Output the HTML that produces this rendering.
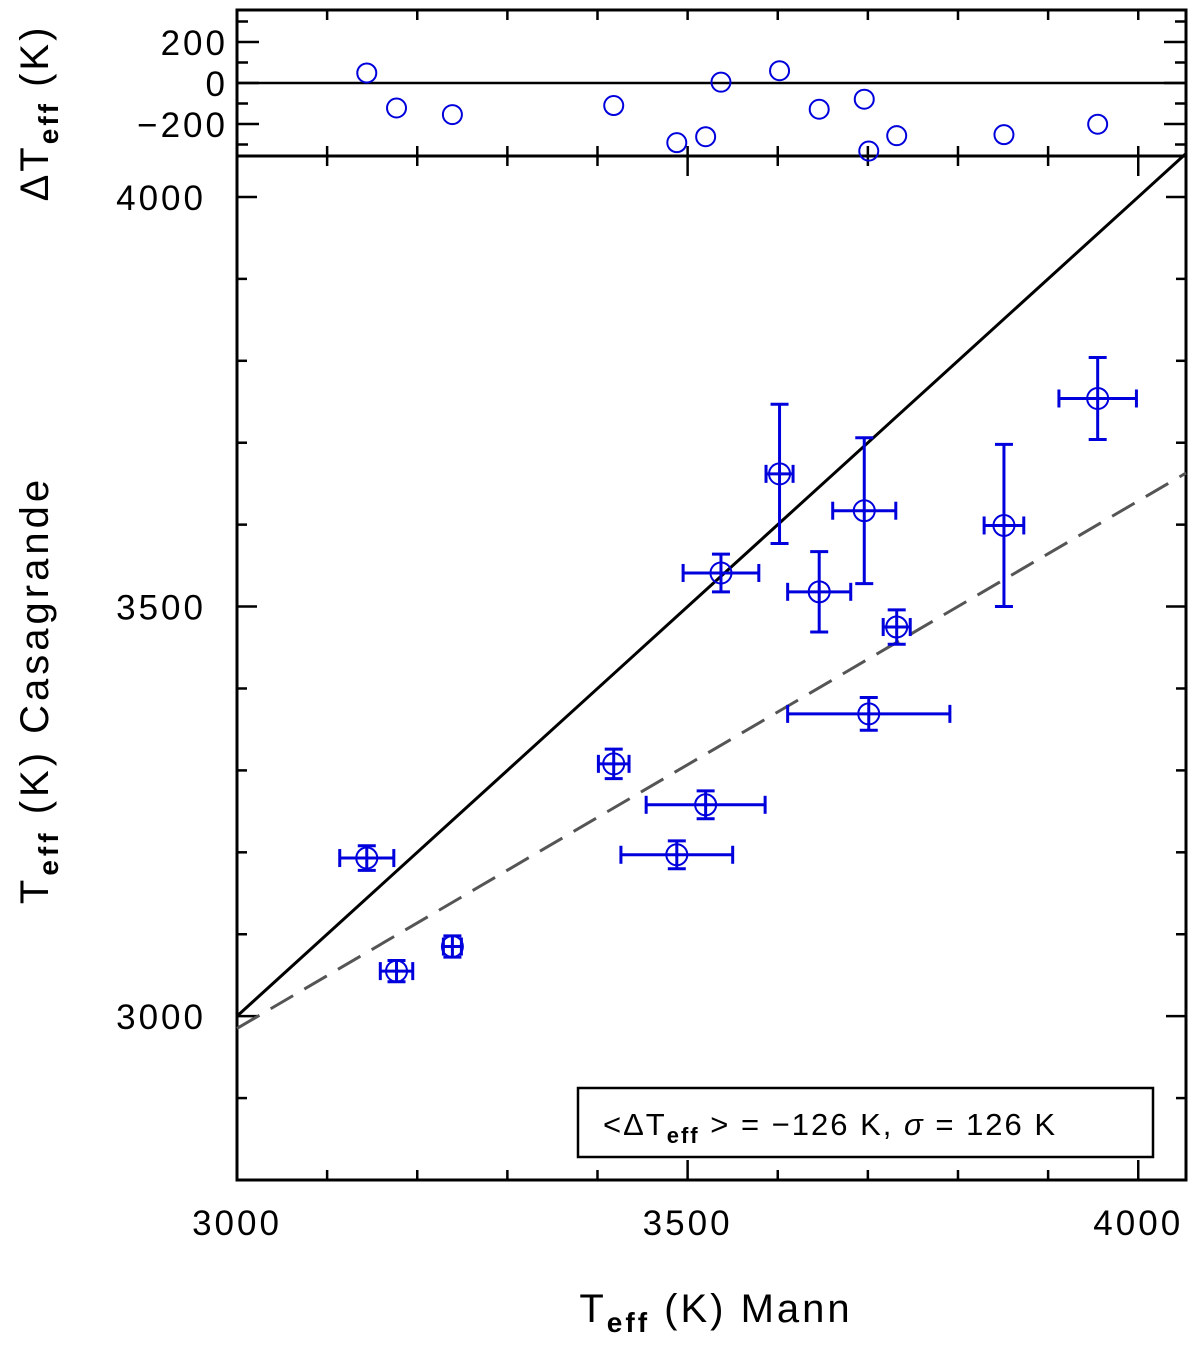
<!DOCTYPE html>
<html><head><meta charset="utf-8"><style>
body{margin:0;background:#fff;}
svg text{font-family:"Liberation Sans",sans-serif;fill:#000;}
</style></head><body>
<svg id="c" width="1200" height="1340" xmlns="http://www.w3.org/2000/svg"></svg>
<script>
const mannTeff=[3144,3177,3239,3418,3488,3520,3537,3602,3646,3696,3701,3732,3851,3955];
const casaTeff=[3193,3055,3085,3308,3197,3258,3541,3662,3518,3617,3369,3475,3599,3754];
const mannErr=[30,18,10,17,62,66,42,15,35,35,90,15,22,43];
const casaErr=[15,13,13,18,17,17,23,85,49,89,20,21,99,50];
const xTicks=[3000,3500,4000];
const yTicks=[3000,3500,4000];
const dTicks=[-200,0,200];
const fitLine=[[3000,2985],[4053,3663]];
const NS="http://www.w3.org/2000/svg";
const svg=document.getElementById('c');
const L=237,R=1186,MT=156,MB=1180,TT=10,TB=156;
const X0=3000,X1=4053,Y0=2800,Y1=4050;
const sx=v=>L+(v-X0)/(X1-X0)*(R-L);
const sy=v=>MB-(v-Y0)/(Y1-Y0)*(MB-MT);
const sd=v=>83-v*0.205;
function el(t,a,p){const e=document.createElementNS(NS,t);for(const k in a)e.setAttribute(k,a[k]);(p||svg).appendChild(e);return e;}
function line(x1,y1,x2,y2,w,c,extra){return el('line',Object.assign({x1,y1,x2,y2,stroke:c||'#000','stroke-width':w||2.5},extra||{}));}
const f1=el('rect',{x:L,y:TT,width:R-L,height:TB-TT,fill:'none',stroke:'#000','stroke-width':3});

const f2=el('rect',{x:L,y:MT,width:R-L,height:MB-MT,fill:'none',stroke:'#000','stroke-width':3});

for(let v=3000;v<=4050;v+=100){const x=sx(v);const maj=v%500===0;
 line(x,TT,x,TT+10);line(x,TB,x,TB-10);line(x,TB,x,TB+(maj?20:10));line(x,MB,x,MB-(maj?20:10));}
for(let v=2900;v<=4050;v+=100){const y=sy(v);const maj=v%500===0;
 line(L,y,L+(maj?20:10),y);line(R,y,R-(maj?20:10),y);}
for(let v=-300;v<=300;v+=100){const y=sd(v);const maj=v%200===0;
 line(L,y,L+(maj?22:11),y);line(R,y,R-(maj?22:11),y);}
xTicks.forEach(v=>{const t=el('text',{x:sx(v),y:1235,'font-size':35,'text-anchor':'middle','letter-spacing':3});t.textContent=v;
 });
yTicks.forEach(v=>{const t=el('text',{x:206,y:sy(v)+13,'font-size':35,'text-anchor':'end','letter-spacing':3});t.textContent=v;
 });
dTicks.forEach(v=>{const t=el('text',{x:228,y:sd(v)+13,'font-size':35,'text-anchor':'end','letter-spacing':3});t.textContent=(v<0?'\u2212':'')+Math.abs(v);
 });
const z=line(L,sd(0),R,sd(0),2.5);
const o=line(sx(3000),sy(3000),sx(4053),sy(4053),3);
const fl=line(sx(fitLine[0][0]),sy(fitLine[0][1]),sx(fitLine[1][0]),sy(fitLine[1][1]),3,'#555',{'stroke-dasharray':'26,13'});

const B='#0000dd';
mannTeff.forEach((m,i)=>{const c=casaTeff[i];const x=sx(m),y=sy(c);
 const g=el('g',{});
 const x1=sx(m-mannErr[i]),x2=sx(m+mannErr[i]),y1=sy(c+casaErr[i]),y2=sy(c-casaErr[i]);
 el('line',{x1,y1:y,x2,y2:y,stroke:B,'stroke-width':3},g);
 el('line',{x1:x,y1,x2:x,y2,stroke:B,'stroke-width':3},g);
 el('line',{x1:x1,y1:y-9,x2:x1,y2:y+9,stroke:B,'stroke-width':3},g);
 el('line',{x1:x2,y1:y-9,x2:x2,y2:y+9,stroke:B,'stroke-width':3},g);
 el('line',{x1:x-9,y1,x2:x+9,y2:y1,stroke:B,'stroke-width':3},g);
 el('line',{x1:x-9,y1:y2,x2:x+9,y2,stroke:B,'stroke-width':3},g);
 el('circle',{cx:x,cy:y,r:10.5,fill:'none',stroke:B,'stroke-width':2},g);
 const r=el('circle',{cx:x,cy:sd(c-m),r:9.5,fill:'none',stroke:B,'stroke-width':2});
 
});
</script>
<svg width="1200" height="1340" style="position:absolute;left:0;top:0" xmlns="http://www.w3.org/2000/svg">
<g>
<rect x="578" y="1088" width="575" height="69" fill="#fff" stroke="#000" stroke-width="2.5"/>
<text x="603" y="1135" font-size="31" letter-spacing="2" style="font-family:'Liberation Sans',sans-serif">&lt;ΔT<tspan font-size="22" dy="8" font-weight="bold">eff</tspan><tspan dy="-8"> &gt; = −126 K, </tspan><tspan font-style="italic">σ</tspan> = 126 K</text>
</g>
<text x="716" y="1322" font-size="40" letter-spacing="3" text-anchor="middle" style="font-family:'Liberation Sans',sans-serif">T<tspan font-size="28" dy="10" font-weight="bold">eff</tspan><tspan dy="-10"> (K)  Mann</tspan></text>
<text transform="translate(48,690) rotate(-90)" font-size="40" letter-spacing="4" text-anchor="middle" style="font-family:'Liberation Sans',sans-serif">T<tspan font-size="28" dy="10" font-weight="bold">eff</tspan><tspan dy="-10"> (K)  Casagrande</tspan></text>
<text transform="translate(48,113) rotate(-90)" font-size="40" letter-spacing="3" text-anchor="middle" style="font-family:'Liberation Sans',sans-serif">ΔT<tspan font-size="28" dy="10" font-weight="bold">eff</tspan><tspan dy="-10"> (K)</tspan></text>
</svg>
</body></html>
